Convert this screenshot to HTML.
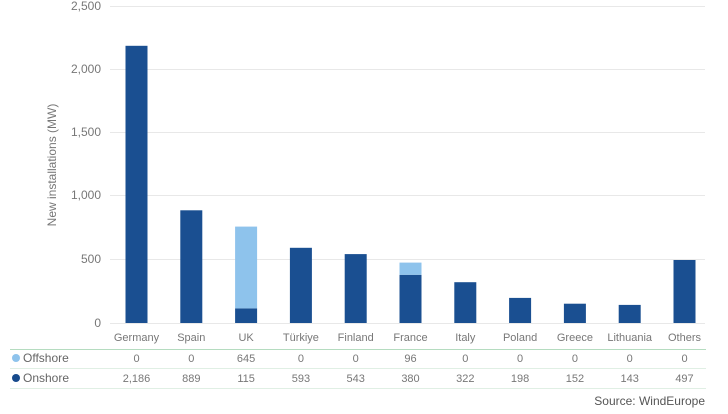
<!DOCTYPE html><html><head><meta charset="utf-8"><style>body{margin:0;background:#fff}</style></head><body>
<svg width="728" height="409" xmlns="http://www.w3.org/2000/svg" font-family="Liberation Sans, sans-serif" fill="#666">
<g stroke="#e8e8e8" stroke-width="1">
<line x1="110" x2="705" y1="6.5" y2="6.5"/><line x1="110" x2="705" y1="69.5" y2="69.5"/><line x1="110" x2="705" y1="132.5" y2="132.5"/><line x1="110" x2="705" y1="195.5" y2="195.5"/><line x1="110" x2="705" y1="259.5" y2="259.5"/><line x1="110" x2="705" y1="323.5" y2="323.5"/>
</g>
<g font-size="12" text-anchor="end" fill="#777">
<text x="101" y="10">2,500</text><text x="101" y="73">2,000</text><text x="101" y="136">1,500</text><text x="101" y="199">1,000</text><text x="101" y="263">500</text><text x="101" y="327">0</text>
</g>
<text transform="translate(56,165) rotate(-90)" font-size="12" text-anchor="middle" fill="#777">New installations (MW)</text>
<g transform="translate(5.5,0)">
<g fill="#1a4f91">
<rect x="120" y="45.8" width="22" height="277.2"/>
<rect x="174.8" y="210.3" width="22" height="112.7"/>
<rect x="229.6" y="308.4" width="22" height="14.6"/>
<rect x="284.4" y="247.8" width="22" height="75.2"/>
<rect x="339.2" y="254.1" width="22" height="68.9"/>
<rect x="394" y="274.8" width="22" height="48.2"/>
<rect x="448.8" y="282.2" width="22" height="40.8"/>
<rect x="503.6" y="297.9" width="22" height="25.1"/>
<rect x="558.4" y="303.7" width="22" height="19.3"/>
<rect x="613.2" y="304.9" width="22" height="18.1"/>
<rect x="668" y="260" width="22" height="63"/>
</g>
<g fill="#8ec3ec">
<rect x="229.6" y="226.6" width="22" height="81.8"/>
<rect x="394" y="262.6" width="22" height="12.2"/>
</g>
<g font-size="11" text-anchor="middle" fill="#777">
<text x="131" y="341">Germany</text><text x="185.8" y="341">Spain</text><text x="240.6" y="341">UK</text><text x="295.4" y="341">Türkiye</text><text x="350.2" y="341">Finland</text><text x="405" y="341">France</text><text x="459.8" y="341">Italy</text><text x="514.6" y="341">Poland</text><text x="569.4" y="341">Greece</text><text x="624.2" y="341">Lithuania</text><text x="679" y="341">Others</text>
<text x="131" y="362">0</text><text x="185.8" y="362">0</text><text x="240.6" y="362">645</text><text x="295.4" y="362">0</text><text x="350.2" y="362">0</text><text x="405" y="362">96</text><text x="459.8" y="362">0</text><text x="514.6" y="362">0</text><text x="569.4" y="362">0</text><text x="624.2" y="362">0</text><text x="679" y="362">0</text>
<text x="131" y="382">2,186</text><text x="185.8" y="382">889</text><text x="240.6" y="382">115</text><text x="295.4" y="382">593</text><text x="350.2" y="382">543</text><text x="405" y="382">380</text><text x="459.8" y="382">322</text><text x="514.6" y="382">198</text><text x="569.4" y="382">152</text><text x="624.2" y="382">143</text><text x="679" y="382">497</text>
</g>
</g>
<line x1="10" x2="706" y1="349.5" y2="349.5" stroke="#b5dcc0"/>
<line x1="10" x2="706" y1="368.5" y2="368.5" stroke="#e0efe4"/>
<line x1="10" x2="706" y1="388.5" y2="388.5" stroke="#e0efe4"/>
<circle cx="16" cy="358" r="4" fill="#8ec3ec"/><circle cx="16" cy="378" r="4" fill="#174a8c"/>
<text x="23" y="362" font-size="12" fill="#666">Offshore</text><text x="23" y="382" font-size="12" fill="#666">Onshore</text>
<text x="705" y="405" font-size="12" text-anchor="end" fill="#555">Source: WindEurope</text>
</svg></body></html>
